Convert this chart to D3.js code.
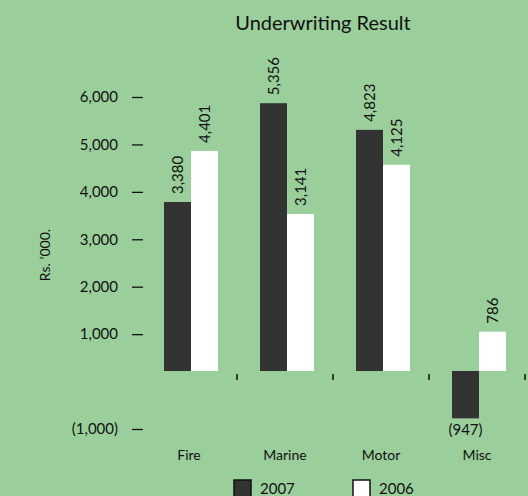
<!DOCTYPE html>
<html>
<head>
<meta charset="utf-8">
<script src="https://cdn.jsdelivr.net/npm/d3@7"></script>
<style>
  body { margin: 0; background: #9acf9c; }
  svg { display: block; font-family: Lato, "Open Sans", sans-serif; }
</style>
</head>
<body>
<script>
var categories = ['Fire', 'Marine', 'Motor', 'Misc'];
var years = ['2007', '2006'];
var values2007 = [3380, 5356, 4823, -947];
var values2006 = [4401, 3141, 4125, 786];
var yTicks = [-1000, 1000, 2000, 3000, 4000, 5000, 6000];

var width = 528, height = 496;
var colors = { '2007': '#333333', '2006': '#ffffff' };

var svg = d3.select('body').append('svg')
    .attr('width', width).attr('height', height);

// category bands
var x0 = d3.scaleBand().domain(categories).range([141, 525]).paddingInner(0).paddingOuter(0);
var x1 = d3.scaleBand().domain(years).range([0, 54]);

// the bars and the axis in the original do not share exactly the same scale
var yBar = d3.scaleLinear().domain([0, 1000]).range([371, 321]);
var yAxis = d3.scaleLinear().domain([-1000, 6000]).range([429, 97]);

var data = categories.map(function (c, i) {
  return { cat: c, vals: [ { year: '2007', v: values2007[i] }, { year: '2006', v: values2006[i] } ] };
});

var fmt = function (v) {
  var s = d3.format(',')(Math.abs(v));
  return v < 0 ? '(' + s + ')' : s;
};

// title
svg.append('text')
  .attr('x', 323).attr('y', 30)
  .attr('text-anchor', 'middle')
  .attr('font-size', 20)
  .attr('fill', '#111')
  .text('Underwriting Result');

// y axis (ticks only, no domain line)
var axis = svg.append('g').attr('transform', 'translate(143,0)')
  .call(d3.axisLeft(yAxis).tickValues(yTicks).tickSize(11).tickPadding(14).tickFormat(fmt));
axis.select('.domain').remove();
axis.selectAll('line').attr('stroke', '#111').attr('stroke-width', 1.3);
axis.selectAll('text').attr('font-size', 15).attr('fill', '#111')
  .attr('font-family', 'Lato, "Open Sans", sans-serif');

// y label
svg.append('text')
  .attr('transform', 'translate(50,255) rotate(-90)')
  .attr('text-anchor', 'middle')
  .attr('font-size', 14)
  .attr('fill', '#111')
  .text('Rs. \u2019000.');

// category separators
svg.selectAll('.sep')
  .data(categories)
  .enter().append('line')
  .attr('x1', function (d) { return x0(d) + x0.bandwidth(); })
  .attr('x2', function (d) { return x0(d) + x0.bandwidth(); })
  .attr('y1', 374).attr('y2', 380)
  .attr('stroke', '#111').attr('stroke-width', 1.5);

// bars
var groups = svg.selectAll('.grp').data(data).enter().append('g')
  .attr('transform', function (d) { return 'translate(' + (x0(d.cat) + 23) + ',0)'; });

groups.selectAll('rect').data(function (d) { return d.vals; }).enter().append('rect')
  .attr('x', function (d) { return x1(d.year); })
  .attr('width', x1.bandwidth())
  .attr('y', function (d) { return d.v >= 0 ? yBar(d.v) : yBar(0); })
  .attr('height', function (d) { return Math.abs(yBar(d.v) - yBar(0)); })
  .attr('fill', function (d) { return colors[d.year]; });

// value labels
groups.selectAll('.val').data(function (d) { return d.vals; }).enter().append('text')
  .attr('font-size', 15)
  .attr('fill', '#111')
  .attr('transform', function (d) {
    var cx = x1(d.year) + x1.bandwidth() / 2;
    if (d.v < 0) return 'translate(' + cx + ',' + (yBar(d.v) + 17) + ')';
    return 'translate(' + (cx + 5) + ',' + (yBar(d.v) - 8) + ') rotate(-90)';
  })
  .attr('text-anchor', function (d) { return d.v < 0 ? 'middle' : 'start'; })
  .text(function (d) { return fmt(d.v); });

// category labels
svg.selectAll('.cat').data(categories).enter().append('text')
  .attr('x', function (d) { return x0(d) + 48; })
  .attr('y', 460)
  .attr('text-anchor', 'middle')
  .attr('font-size', 14)
  .attr('fill', '#111')
  .text(function (d) { return d; });

// legend
var legend = svg.selectAll('.leg').data(years).enter().append('g')
  .attr('transform', function (d, i) { return 'translate(' + (234 + i * 119) + ',480)'; });
legend.append('rect')
  .attr('width', 17).attr('height', 17)
  .attr('fill', function (d) { return colors[d]; })
  .attr('stroke', '#111').attr('stroke-width', 1.5);
legend.append('text')
  .attr('x', 26).attr('y', 14)
  .attr('font-size', 15)
  .attr('fill', '#111')
  .text(function (d) { return d; });
</script>
</body>
</html>
